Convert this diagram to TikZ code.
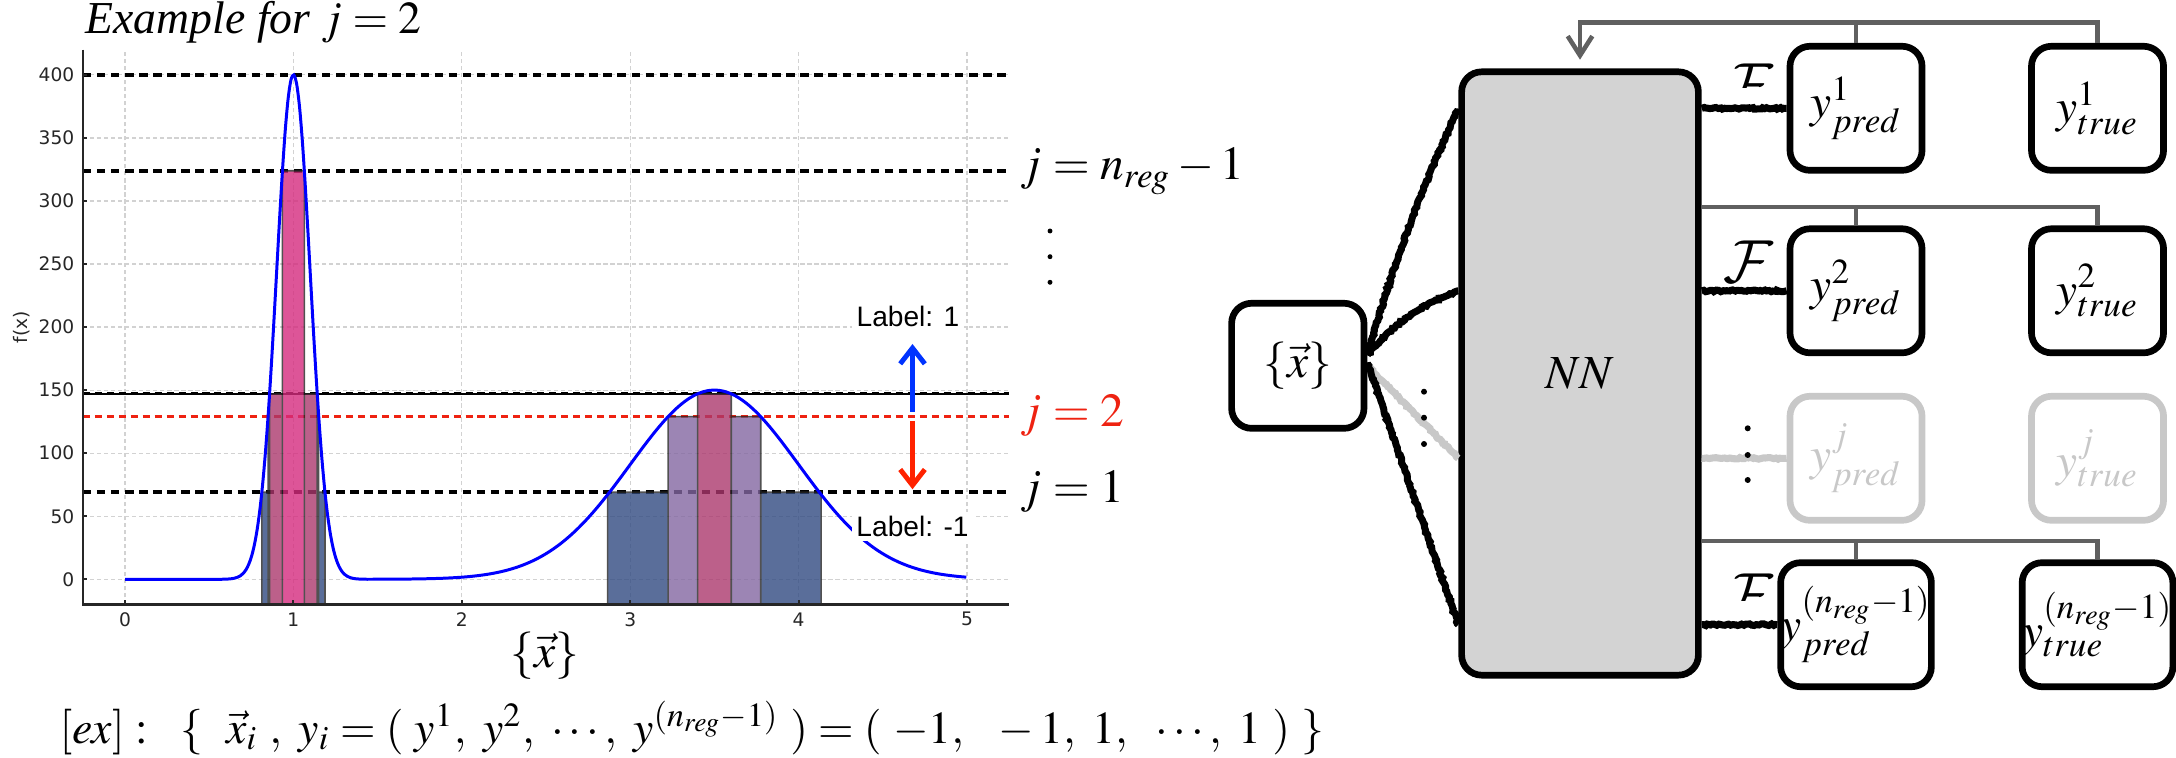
\documentclass[tikz,border=0pt]{standalone}
\usepackage{mathptmx}
\DeclareMathAlphabet{\mathcal}{OMS}{cmsy}{m}{n}
\usepackage[no-math]{fontspec}
\setmainfont{Liberation Serif}
\newfontfamily\tickfamily{DejaVu Sans}
\newfontfamily\labelfamily{Liberation Sans}
\usetikzlibrary{arrows.meta,decorations.pathmorphing}
\definecolor{barblue}{RGB}{49,74,129}
\definecolor{barlav}{RGB}{131,103,161}
\definecolor{barmauve}{RGB}{171,56,109}
\definecolor{barpink}{RGB}{213,43,126}
\definecolor{thrred}{RGB}{238,34,17}
\definecolor{arrblue}{RGB}{0,51,255}
\definecolor{arrred}{RGB}{255,34,0}
\definecolor{fbgray}{RGB}{96,96,96}
\definecolor{ghostgray}{RGB}{200,200,200}
\definecolor{gridgray}{RGB}{210,210,210}
\definecolor{nnfill}{RGB}{211,211,211}
\definecolor{tickgray}{RGB}{38,38,38}

\tikzset{
  bigfont/.style={font=\fontsize{13.5}{16}\selectfont},
  lossfont/.style={font=\fontsize{16}{18}\selectfont},
  tickfont/.style={font=\tickfamily\fontsize{5.3}{6}\selectfont, text=tickgray, inner sep=0pt},
  gridline/.style={gridgray, line width=0.35pt, dash pattern=on 1.2pt off 0.8pt},
  axisline/.style={tickgray, line width=0.6pt},
  thrthick/.style={black, line width=1.15pt, dash pattern=on 2.4pt off 1.6pt},
  thrthin/.style={line width=0.85pt, dash pattern=on 2pt off 1.4pt},
  bar/.style={draw=black!85, line width=0.45pt},
  labbox/.style={fill=white, inner sep=1.2pt, font=\labelfamily\fontsize{8}{9}\selectfont},
  labarrow/.style={line width=1.4pt, -{Straight Barb[length=4.5pt,width=7pt]}},
  rbox/.style={draw, line width=1.9pt, rounded corners=0.2cm, inner sep=0pt, bigfont},
  yblock/.style={rbox, minimum width=1.32cm, minimum height=1.24cm},
  ghostbox/.style={draw=ghostgray, text=ghostgray},
  sketch/.style={line width=2pt, decorate, decoration={random steps, segment length=0.6pt, amplitude=0.25pt}},
  fbline/.style={fbgray, line width=1.3pt}
}

\begin{document}
\begin{tikzpicture}[x=0.01cm, y=-0.01cm]
  \useasboundingbox (0,0) rectangle (2176,758);
  \pgfmathsetseed{7}

  % Title
  \node[font=\fontsize{13}{15}\selectfont, anchor=base west, inner sep=0pt] (title) at (85,34) {\itshape Example for $j=2$};

  % Plot, data coordinates
  \begin{scope}[shift={(125,579.3)}, x=1.683cm, y=0.0126cm]
    % Grid
    \foreach \u in {0,...,5}
      \draw[gridline] (\u,-20) -- (\u,420);
    \foreach \v in {0,50,...,400}
      \draw[gridline] (-0.25,\v) -- (5.25,\v);

    % Thresholds
    \draw[thrthick] (-0.25,400) -- (5.25,400);
    \draw[thrthick] (-0.25,324) -- (5.25,324);
    \draw[black, line width=0.5pt] (-0.25,147) -- (5.25,147);
    \draw[thrthin, black] (-0.25,147) -- (5.25,147);
    \draw[thrthin, thrred] (-0.25,129) -- (5.25,129);
    \draw[thrthick] (-0.25,69) -- (5.25,69);

    % Bars above each threshold
    \begin{scope}[transparency group, opacity=0.8]
      \foreach \a/\b in {0.8125/1.1875, 2.866/4.134}
        \draw[bar, fill=barblue] (\a,-20) rectangle (\b,69);
      \foreach \a/\b in {0.85/1.15, 3.225/3.775}
        \draw[bar, fill=barlav] (\a,-20) rectangle (\b,129);
      \foreach \a/\b in {0.859/1.141, 3.4/3.6}
        \draw[bar, fill=barmauve] (\a,-20) rectangle (\b,147);
      \draw[bar, fill=barpink] (0.935,-20) rectangle (1.065,324);
    \end{scope}

    % Curve
    \draw[blue, line width=0.85pt, domain=0:5, samples=300, smooth]
      plot (\x, {400*exp(-(\x-1)*(\x-1)/0.02)+150*exp(-(\x-3.5)*(\x-3.5)/0.5)});

    % Axes
    \draw[axisline] (-0.25,420) -- (-0.25,-20) -- (5.25,-20);
    \foreach \u in {0,...,5} {
      \draw[axisline] (\u,-20) -- ++(0,3.5);
      \node[tickfont] (xt\u) at (\u,-31.7) {\u};
    }
    \foreach \v in {0,50,...,400} {
      \draw[axisline] (-0.25,\v) -- ++(0.025,0);
      \node[tickfont, anchor=east] (yt\v) at (-0.297,\v) {\v};
    }
  \end{scope}
  \node[tickfont, rotate=90] (ylab) at (21.7,327) {f(x)};
  \node[bigfont] (xlab) at (545,656) {$\{\vec{x}\}$};

  % Threshold names
  \node[bigfont, anchor=base west, inner sep=0pt] (jtop) at (1020,180) {$j=n_{reg}-1$};
  \node[bigfont, anchor=base west, inner sep=0pt, text=thrred] (jtwo) at (1020,426) {$j=2$};
  \node[bigfont, anchor=base west, inner sep=0pt] (jone) at (1020,502) {$j=1$};
  \foreach \yy in {231,256.7,282.3}
    \fill (1050,\yy) circle[radius=0.7pt];

  % Labels on both sides of j = 2
  \node[labbox] (labpos) at (908,316) {Label: 1};
  \node[labbox] (labneg) at (912.5,526.7) {Label: -1};
  \coordinate (upstart) at (912.5,411.7);
  \coordinate (upend) at (912.5,344);
  \coordinate (downstart) at (912.5,421);
  \coordinate (downend) at (912.5,489.3);
  \draw[labarrow, arrblue] (upstart) -- (upend);
  \draw[labarrow, arrred] (downstart) -- (downend);

  % Example line
  \node[anchor=base west, inner sep=0pt, font=\fontsize{13}{15}\selectfont] (ex) at (59,743)
    {$[ex]:\ \ \{\ \ \vec{x}_i\ ,\ y_i=(\ y^1,\ y^2,\ \cdots,\ y^{(n_{reg}-1)}\ )=(\ -1,\ \ {}-1,\ 1,\ \ \cdots,\ 1\ )\ \}$};

  % Network and outputs
  \node[rbox, fill=nnfill, minimum width=2.366cm, minimum height=6.03cm] (nn) at (1580,373.5) {$NN$};
  \node[rbox, minimum width=1.323cm, minimum height=1.25cm] (xin) at (1297.8,365.8) {$\{\vec{x}\}$};
  \foreach \r/\yy/\lab in {1/108.3/1, 2/290.8/2, n/624.7/{(n_{reg}-1)}} {
    \node[yblock] (pred\r) at (1856,\yy) {$y^{\lab}_{pred}$};
    \node[yblock] (true\r) at (2097.5,\yy) {$y^{\lab}_{true}$};
  }
  \node[yblock, ghostbox] (predj) at (1856,458.3) {$y^{j}_{pred}$};
  \node[yblock, ghostbox] (truej) at (2097.5,458.3) {$y^{j}_{true}$};

  % Loss labels
  \begin{scope}
    \clip (1700,40) rectangle (1790,88);
    \node[lossfont] (fone) at (1748.5,85) {$\mathcal{F}$};
  \end{scope}
  \node[lossfont] (ftwo) at (1748.5,261.7) {$\mathcal{F}$};
  \begin{scope}
    \clip (1700,560) rectangle (1790,600);
    \node[lossfont] (flast) at (1748.5,595) {$\mathcal{F}$};
  \end{scope}

  % Input to network
  \draw[sketch] ([yshift=3pt]xin.east) to[bend left=4] (nn.west |- pred1);
  \draw[sketch] ([yshift=3pt]xin.east) to[bend left=14] (nn.west |- pred2);
  \draw[sketch, ghostgray] (xin.east) -- (nn.west |- predj);
  \draw[sketch] ([yshift=1pt]xin.east) -- (nn.west |- predn);
  \foreach \yy in {391.7,417.7,444}
    \fill (1424,\yy) circle[radius=0.85pt];

  % Network to outputs
  \foreach \r in {1,2,n}
    \draw[sketch] (nn.east |- pred\r) -- (pred\r.west);
  \draw[sketch, ghostgray] (nn.east |- predj) -- (predj.west);
  \foreach \yy in {428.3,455,480}
    \fill (1747.7,\yy) circle[radius=0.85pt];

  % Feedback
  \draw[fbline, -{Straight Barb[length=5.5pt,width=7pt]}, shorten >=2.5pt]
    (true1.north) -- ++(0,-20.6) -| (nn.north);
  \draw[fbline] (pred1.north) -- ++(0,-20.6);
  \foreach \r in {2,n} {
    \draw[fbline] (true\r.north) -- ++(0,-18.5) coordinate (top\r) -- (top\r -| nn.east);
    \draw[fbline] (pred\r.north) -- (pred\r.north |- top\r);
  }
\end{tikzpicture}
\end{document}
